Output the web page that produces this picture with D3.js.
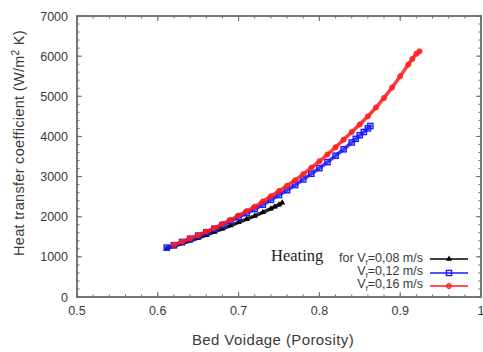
<!DOCTYPE html>
<html>
<head>
<meta charset="utf-8">
<script src="https://cdn.jsdelivr.net/npm/d3@7"></script>
<style>
  html, body { margin: 0; padding: 0; background: #fff; }
  svg { display: block; }
</style>
</head>
<body>
<svg id="chart" width="483" height="352"></svg>
<script>
// ---- Data ----
const xTicks = [0.5, 0.6, 0.7, 0.8, 0.9, 1.0];
const xTickLabels = ["0.5", "0.6", "0.7", "0.8", "0.9", "1"];
const yTicks = [0, 1000, 2000, 3000, 4000, 5000, 6000, 7000];
const yTickLabels = ["0", "1000", "2000", "3000", "4000", "5000", "6000", "7000"];

const seriesVf = ["0,08", "0,12", "0,16"];

// Vf = 0,08 m/s (black, triangles)
const x008 = [0.611, 0.62, 0.63, 0.64, 0.65, 0.66, 0.67, 0.68, 0.69, 0.70, 0.71, 0.72, 0.73, 0.74, 0.745, 0.75, 0.754];
const y008 = [1210, 1260, 1330, 1400, 1470, 1540, 1620, 1700, 1780, 1860, 1940, 2020, 2110, 2200, 2250, 2300, 2350];

// Vf = 0,12 m/s (blue, squares)
const x012 = [0.611, 0.62, 0.63, 0.64, 0.65, 0.66, 0.67, 0.68, 0.69, 0.70, 0.71, 0.72, 0.73, 0.74, 0.75, 0.76, 0.77, 0.78, 0.79, 0.80, 0.81, 0.82, 0.83, 0.84, 0.845, 0.85, 0.855, 0.86, 0.863];
const y012 = [1230, 1290, 1370, 1450, 1530, 1610, 1700, 1790, 1890, 1990, 2090, 2190, 2300, 2420, 2540, 2660, 2790, 2930, 3070, 3210, 3360, 3520, 3680, 3850, 3940, 4030, 4110, 4200, 4260];

// Vf = 0,16 m/s (red, circles)
const x016 = [0.62, 0.63, 0.64, 0.65, 0.66, 0.67, 0.68, 0.69, 0.70, 0.71, 0.72, 0.73, 0.74, 0.75, 0.76, 0.77, 0.78, 0.79, 0.80, 0.81, 0.82, 0.83, 0.84, 0.85, 0.86, 0.87, 0.88, 0.89, 0.90, 0.91, 0.915, 0.92, 0.924];
const y016 = [1300, 1380, 1460, 1540, 1630, 1720, 1820, 1920, 2030, 2140, 2250, 2380, 2510, 2640, 2770, 2910, 3060, 3220, 3380, 3550, 3730, 3920, 4110, 4300, 4500, 4720, 4960, 5220, 5500, 5790, 5930, 6060, 6120];

// ---- Layout ----
const svg = d3.select("#chart");
const L = 77, R = 481, T = 16, B = 297;
const x = d3.scaleLinear().domain([0.5, 1.0]).range([L, R]);
const y = d3.scaleLinear().domain([0, 7000]).range([B, T]);
const axisColor = "#6a6a6a";
const textColor = "#3a3a3a";
const font = "'Liberation Sans', Arial, sans-serif";

// Ticks (inward, on all four sides)
const g = svg.append("g");
const xMinor = d3.range(0.5, 1.0001, 0.02);
const yMinor = d3.range(0, 7001, 200);
function tickSet(vals, len, dir) {
  vals.forEach(v => {
    if (dir === "x") {
      const px = x(v);
      g.append("line").attr("x1", px).attr("x2", px).attr("y1", B).attr("y2", B - len)
        .attr("stroke", axisColor).attr("stroke-width", 1);
      g.append("line").attr("x1", px).attr("x2", px).attr("y1", T).attr("y2", T + len)
        .attr("stroke", axisColor).attr("stroke-width", 1);
    } else {
      const py = y(v);
      g.append("line").attr("x1", L).attr("x2", L + len).attr("y1", py).attr("y2", py)
        .attr("stroke", axisColor).attr("stroke-width", 1);
      g.append("line").attr("x1", R).attr("x2", R - len).attr("y1", py).attr("y2", py)
        .attr("stroke", axisColor).attr("stroke-width", 1);
    }
  });
}
tickSet(xMinor, 2.5, "x");
tickSet(xTicks, 5, "x");
tickSet(yMinor, 2.5, "y");
tickSet(yTicks, 5, "y");

// Frame
svg.append("rect").attr("x", L).attr("y", T).attr("width", R - L).attr("height", B - T)
  .attr("fill", "none").attr("stroke", axisColor).attr("stroke-width", 1.8);

// Tick labels
svg.append("g").selectAll("text").data(xTicks).join("text")
  .attr("x", d => x(d)).attr("y", 315).attr("text-anchor", "middle")
  .attr("font-family", font).attr("font-size", 12.5).attr("fill", textColor)
  .text((d, i) => xTickLabels[i]);
svg.append("g").selectAll("text").data(yTicks).join("text")
  .attr("x", 68).attr("y", d => y(d) + 4.5).attr("text-anchor", "end")
  .attr("font-family", font).attr("font-size", 12.5).attr("fill", textColor)
  .text((d, i) => yTickLabels[i]);

// Axis titles
svg.append("text").attr("x", 273).attr("y", 345).attr("text-anchor", "middle")
  .attr("font-family", font).attr("font-size", 15).attr("letter-spacing", 0.4).attr("fill", textColor)
  .text("Bed Voidage (Porosity)");
const yt = svg.append("text").attr("transform", "translate(24,143) rotate(-90)")
  .attr("text-anchor", "middle").attr("font-family", font).attr("font-size", 14.5)
  .attr("letter-spacing", 0.3).attr("fill", textColor);
yt.append("tspan").text("Heat transfer coefficient (W/m");
yt.append("tspan").attr("dy", -5).attr("font-size", 10).text("2");
yt.append("tspan").attr("dy", 5).text(" K)");

// Series
const series = [
  { xs: x008, ys: y008, color: "#000000", shape: "tri" },
  { xs: x012, ys: y012, color: "#1a1aff", shape: "sq" },
  { xs: x016, ys: y016, color: "#ff1a1a", shape: "circ" }
];
const line = d3.line().x(d => x(d[0])).y(d => y(d[1]));
function marker(sel, shape, color, cx, cy) {
  if (shape === "tri") {
    sel.append("path").attr("d", d3.symbol(d3.symbolTriangle, 16)())
      .attr("transform", `translate(${cx},${cy})`).attr("fill", color);
  } else if (shape === "sq") {
    sel.append("rect").attr("x", cx - 2.6).attr("y", cy - 2.6).attr("width", 5.2).attr("height", 5.2)
      .attr("fill", "none").attr("stroke", color).attr("stroke-width", 1.4);
  } else {
    sel.append("circle").attr("cx", cx).attr("cy", cy).attr("r", 2.5)
      .attr("fill", color).attr("fill-opacity", 0.6).attr("stroke", color).attr("stroke-width", 1);
  }
}
series.forEach(s => {
  const pts = s.xs.map((v, i) => [v, s.ys[i]]);
  const sg = svg.append("g");
  sg.append("path").datum(pts).attr("d", line).attr("fill", "none")
    .attr("stroke", s.color).attr("stroke-width", 3.5).attr("stroke-opacity", 0.85)
    .attr("stroke-linecap", "round");
  pts.forEach(p => marker(sg, s.shape, s.color, x(p[0]), y(p[1])));
});

// Legend
svg.append("text").attr("x", 271).attr("y", 261)
  .attr("font-family", "'Liberation Serif', 'Times New Roman', serif").attr("font-size", 16.5)
  .attr("fill", "#222").text("Heating");
const rows = [
  { pre: "for ", vf: seriesVf[0], y: 262, ly: 259 },
  { pre: "", vf: seriesVf[1], y: 275, ly: 273 },
  { pre: "", vf: seriesVf[2], y: 288, ly: 286 }
];
rows.forEach((r, i) => {
  const t = svg.append("text").attr("x", 423).attr("y", r.y).attr("text-anchor", "end")
    .attr("font-family", font).attr("font-size", 12.5).attr("fill", textColor);
  t.append("tspan").text(r.pre + "V");
  t.append("tspan").attr("dy", 2.5).attr("font-size", 8).text("f");
  t.append("tspan").attr("dy", -2.5).text("=" + r.vf + " m/s");
  const s = series[i];
  svg.append("line").attr("x1", 430).attr("x2", 468).attr("y1", r.ly).attr("y2", r.ly)
    .attr("stroke", s.color).attr("stroke-width", 1.5);
  marker(svg, s.shape, s.color, 449, r.ly);
});
</script>
</body>
</html>
